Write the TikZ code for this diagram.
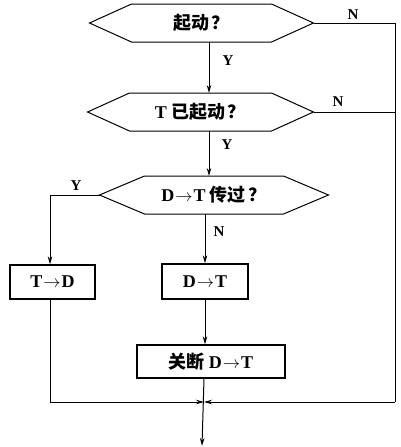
\documentclass[tikz,border=0pt]{standalone}
\usepackage{fontspec}
\setmainfont{Liberation Serif}
\newfontfamily\cjk{Noto Sans CJK SC}
\usetikzlibrary{arrows.meta}
\newcommand\myarr{\kern1pt$\rightarrow$\kern1pt}
\begin{document}
\begin{tikzpicture}[x=1pt,y=-1pt,
  line width=1pt,
  every node/.style={inner sep=0pt},
  txt/.style={font=\fontsize{18}{20}\selectfont\bfseries},
  lbl/.style={font=\fontsize{15}{17}\selectfont\bfseries},
  hexa/.style={minimum height=37pt},
  boxn/.style={draw,line width=1.3pt,font=\fontsize{18}{20}\selectfont\bfseries},
  arr/.style={-{Stealth[length=8pt,width=4.5pt]}}]
\useasboundingbox (0,0) rectangle (400,447);
% decision nodes
\node[hexa,minimum width=223pt,txt] (h1) at (201.5,23) {\cjk 起动\,？};
\node[hexa,minimum width=225pt,txt] (h2) at (200.5,112) {T\kern4pt{\cjk 已起动\,？}};
\node[hexa,minimum width=228pt,txt] (h3) at (214,195) {D\myarr T\kern4pt{\cjk 传过\,？}};
\foreach \h/\s in {h1/42,h2/42,h3/45}{
  \draw (\h.west) -- ([xshift=\s pt]\h.north west) -- ([xshift=-\s pt]\h.north east)
    -- (\h.east) -- ([xshift=-\s pt]\h.south east) -- ([xshift=\s pt]\h.south west) -- cycle;
}
% process boxes
\node[boxn,minimum width=85pt,minimum height=34pt] (td) at (52.5,282) {T\myarr D};
\node[boxn,minimum width=86pt,minimum height=35pt] (dt) at (205,281.5) {D\myarr T};
\node[boxn,minimum width=148pt,minimum height=33pt] (gd) at (211,361.5) {{\cjk 关断}\kern4pt D\myarr T};
% helper coordinates
\coordinate (xa) at (209,0);
\coordinate (xb) at (205,0);
\coordinate (yb) at (50,195);
\coordinate (r1) at (395,23);
\coordinate (r2) at (395,402);
\coordinate (l2) at (50,402);
\coordinate (j) at (204,402);
\coordinate (end) at (202,446);
% connectors
\draw[arr] (h1.south -| xa) -- (h2.north -| xa);
\draw[arr] (h2.south -| xa) -- (h3.north -| xa);
\draw[arr] (h3.west) -- (yb) -- (yb |- td.north);
\draw[arr] (h3.south -| xb) -- (dt.north -| xb);
\draw[arr] (dt.south -| xb) -- (gd.north -| xb);
\draw (h1.east) -- (r1) -- (r2);
\draw (h2.east) -- (h2.east -| r1);
\draw[arr] (td.south -| yb) -- (l2) -- (j);
\draw[arr] (r2) -- (j);
\draw[arr] (gd.south -| j) -- (end);
% labels
\node[lbl] (n1) at (353,15) {N};
\node[lbl] (n2) at (338,102) {N};
\node[lbl] (y1) at (228,61) {Y};
\node[lbl] (y2) at (227,145) {Y};
\node[lbl] (y3) at (76,186) {Y};
\node[lbl] (n3) at (219,232) {N};
\end{tikzpicture}
\end{document}
